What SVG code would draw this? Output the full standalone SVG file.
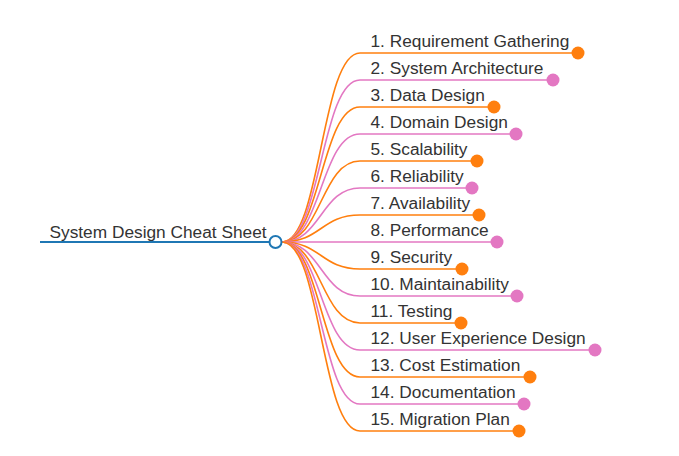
<svg xmlns="http://www.w3.org/2000/svg" width="679" height="456" viewBox="0 0 679 456">
<style>
text{font-family:"Liberation Sans",Arial,sans-serif;font-size:17.3px;fill:#333}
.o{stroke:#ff7f0e}
.p{stroke:#e377c2}
.lk{fill:none;stroke-width:1.6}
.ul{stroke-width:1.6}
.co{fill:#ff7f0e}
.cp{fill:#e377c2}
</style>
<rect width="679" height="456" fill="#fff"/>
<g id="connectors" class="lk">
<path class="o" d="M282,242C321,242 321,53 360,53"/>
<path class="p" d="M282,242C321,242 321,80 360,80"/>
<path class="o" d="M282,242C321,242 321,107 360,107"/>
<path class="p" d="M282,242C321,242 321,134 360,134"/>
<path class="o" d="M282,242C321,242 321,161 360,161"/>
<path class="p" d="M282,242C321,242 321,188 360,188"/>
<path class="o" d="M282,242C321,242 321,215 360,215"/>
<path class="p" d="M282,242C321,242 321,242 360,242"/>
<path class="o" d="M282,242C321,242 321,269 360,269"/>
<path class="p" d="M282,242C321,242 321,296 360,296"/>
<path class="o" d="M282,242C321,242 321,323 360,323"/>
<path class="p" d="M282,242C321,242 321,350 360,350"/>
<path class="o" d="M282,242C321,242 321,377 360,377"/>
<path class="p" d="M282,242C321,242 321,404 360,404"/>
<path class="o" d="M282,242C321,242 321,431 360,431"/>
</g>
<g id="root">
<line x1="40" y1="242" x2="269" y2="242" stroke="#1f77b4" stroke-width="2"/>
<text x="49.5" y="238">System Design Cheat Sheet</text>
<circle cx="275.5" cy="242" r="6" fill="#fff" stroke="#1f77b4" stroke-width="2"/>
</g>
<g id="n1"><line class="ul o" x1="360" y1="53" x2="578" y2="53"/><text x="370.5" y="47">1. Requirement Gathering</text><circle class="co" cx="578" cy="53" r="6.5"/></g>
<g id="n2"><line class="ul p" x1="360" y1="80" x2="553" y2="80"/><text x="370.5" y="74">2. System Architecture</text><circle class="cp" cx="553" cy="80" r="6.5"/></g>
<g id="n3"><line class="ul o" x1="360" y1="107" x2="494" y2="107"/><text x="370.5" y="101">3. Data Design</text><circle class="co" cx="494" cy="107" r="6.5"/></g>
<g id="n4"><line class="ul p" x1="360" y1="134" x2="516" y2="134"/><text x="370.5" y="128">4. Domain Design</text><circle class="cp" cx="516" cy="134" r="6.5"/></g>
<g id="n5"><line class="ul o" x1="360" y1="161" x2="477" y2="161"/><text x="370.5" y="155">5. Scalability</text><circle class="co" cx="477" cy="161" r="6.5"/></g>
<g id="n6"><line class="ul p" x1="360" y1="188" x2="472" y2="188"/><text x="370.5" y="182">6. Reliability</text><circle class="cp" cx="472" cy="188" r="6.5"/></g>
<g id="n7"><line class="ul o" x1="360" y1="215" x2="479" y2="215"/><text x="370.5" y="209">7. Availability</text><circle class="co" cx="479" cy="215" r="6.5"/></g>
<g id="n8"><line class="ul p" x1="360" y1="242" x2="497" y2="242"/><text x="370.5" y="236">8. Performance</text><circle class="cp" cx="497" cy="242" r="6.5"/></g>
<g id="n9"><line class="ul o" x1="360" y1="269" x2="462" y2="269"/><text x="370.5" y="263">9. Security</text><circle class="co" cx="462" cy="269" r="6.5"/></g>
<g id="n10"><line class="ul p" x1="360" y1="296" x2="517" y2="296"/><text x="370.5" y="290">10. Maintainability</text><circle class="cp" cx="517" cy="296" r="6.5"/></g>
<g id="n11"><line class="ul o" x1="360" y1="323" x2="461" y2="323"/><text x="370.5" y="317">11. Testing</text><circle class="co" cx="461" cy="323" r="6.5"/></g>
<g id="n12"><line class="ul p" x1="360" y1="350" x2="595" y2="350"/><text x="370.5" y="344">12. User Experience Design</text><circle class="cp" cx="595" cy="350" r="6.5"/></g>
<g id="n13"><line class="ul o" x1="360" y1="377" x2="530" y2="377"/><text x="370.5" y="371">13. Cost Estimation</text><circle class="co" cx="530" cy="377" r="6.5"/></g>
<g id="n14"><line class="ul p" x1="360" y1="404" x2="524" y2="404"/><text x="370.5" y="398">14. Documentation</text><circle class="cp" cx="524" cy="404" r="6.5"/></g>
<g id="n15"><line class="ul o" x1="360" y1="431" x2="519" y2="431"/><text x="370.5" y="425">15. Migration Plan</text><circle class="co" cx="519" cy="431" r="6.5"/></g>
</svg>
